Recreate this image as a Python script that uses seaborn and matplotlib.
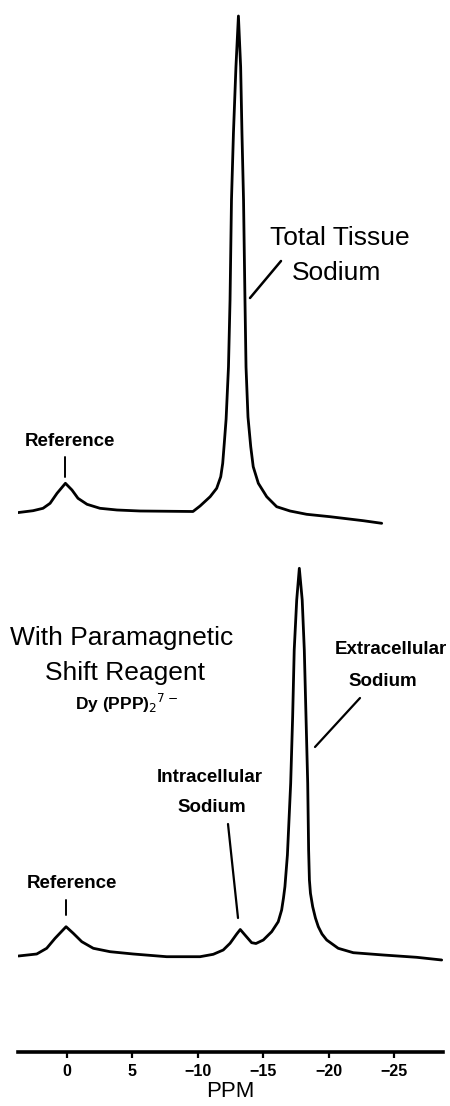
import numpy as np
import pandas as pd
import seaborn as sns
from matplotlib import pyplot as plt
from matplotlib import font_manager
from matplotlib.lines import Line2D

# 23Na NMR spectra, chemical shift in ppm, intensity in arbitrary units
top_ppm = [3.79, 2.57, 1.81, 1.27, 0.74, 0.10, -0.40, -0.86, -1.55, -2.54, -3.84, -5.60,
           -9.64, -10.18, -10.95, -11.45, -11.76, -11.91, -12.03, -12.17, -12.35, -12.47,
           -12.58, -12.73, -12.92, -13.11, -13.28, -13.38, -13.50, -13.61, -13.69, -13.84,
           -14.05, -14.24, -14.63, -15.27, -16.03, -17.05, -18.32, -20.10, -22.64, -24.05]
top_int = [27.3, 29.3, 31.7, 36.7, 46.7, 56.7, 50.0, 41.7, 35.7, 31.7, 30.0, 29.0,
           28.5, 34.0, 43.3, 51.7, 63.3, 76.7, 96.7, 121, 173, 240,
           340, 407, 473, 524, 473, 407, 340, 240, 173, 123,
           93.3, 73.3, 56.7, 43.3, 33.3, 29.0, 25.7, 23.3, 19.3, 16.7]

bottom_ppm = [3.69, 2.29, 1.53, 0.89, 0.05, -0.50, -1.15, -2.03, -3.31, -5.08, -7.63, -10.18,
              -11.19, -11.95, -12.47, -12.98, -13.25, -13.61, -14.12, -14.45, -15.01, -15.65,
              -16.15, -16.41, -16.55, -16.66, -16.85, -17.10, -17.25, -17.37, -17.56, -17.76,
              -17.98, -18.14, -18.27, -18.40, -18.47, -18.53, -18.61, -18.78, -18.99, -19.21,
              -19.49, -19.85, -20.73, -21.88, -24.17, -26.72, -28.63]
bottom_int = [96.0, 98.0, 103.7, 113.7, 125.3, 118.7, 110.3, 103.7, 100.3, 98.0, 95.3, 95.3,
              97.7, 102.0, 108.7, 118.0, 122.5, 117.0, 109.3, 108.5, 112.0, 120.3,
              130.3, 142.0, 154.0, 165.3, 197.0, 268.7, 335.3, 402.0, 452.0, 483.7,
              452.0, 402.0, 335.3, 268.7, 202.0, 172.0, 158.7, 145.3, 134.0, 125.3,
              118.0, 112.0, 103.7, 99.3, 97.0, 94.7, 92.0]

tick_ppm = [0, -5, -10, -15, -20, -25]
tick_labels = ["0", "5", "\u221210", "\u221215", "\u221220", "\u221225"]

sns.set_style("white")
installed = {f.name for f in font_manager.fontManager.ttflist}
narrow = "Liberation Sans Narrow" if "Liberation Sans Narrow" in installed else "Liberation Sans"
plt.rcParams["font.family"] = [narrow, "DejaVu Sans"]
plt.rcParams["text.color"] = "black"
plt.rcParams["axes.labelcolor"] = "black"
plt.rcParams["xtick.color"] = "black"

W, H = 450, 1106
fig = plt.figure(figsize=(W / 100, H / 100), dpi=100)


def fx(x):
    return x / W


def fy(y):
    return 1 - y / H


def pointer(x0, y0, x1, y1, lw=1.6):
    fig.add_artist(Line2D([fx(x0), fx(x1)], [fy(y0), fy(y1)], color="black", lw=lw))


def label(x, y, s, size, bold=False):
    fig.text(fx(x), fy(y), s, ha="center", va="center", fontsize=size,
             fontweight="bold" if bold else "normal")


xlim = (3.72, -28.73)

# top spectrum: total tissue sodium
ax1 = fig.add_axes([fx(18), fy(540), fx(425), 540 / H])
sns.lineplot(x=top_ppm, y=top_int, ax=ax1, color="black", lw=2.0, sort=False, estimator=None)
ax1.set_xlim(*xlim)
ax1.set_ylim(0, 540)
ax1.axis("off")

# bottom spectrum: with shift reagent
ax2 = fig.add_axes([fx(18), fy(1052), fx(425), 512 / H])
sns.lineplot(x=bottom_ppm, y=bottom_int, ax=ax2, color="black", lw=2.0, sort=False, estimator=None)
ax2.set_xlim(*xlim)
ax2.set_ylim(0, 512)
for s in ["top", "left", "right"]:
    ax2.spines[s].set_visible(False)
ax2.spines["bottom"].set_linewidth(2.6)
ax2.spines["bottom"].set_color("black")
ax2.set_yticks([])
ax2.set_xticks(tick_ppm)
ax2.set_xticklabels(tick_labels, fontsize=11.5, fontweight="bold")
ax2.tick_params(axis="x", direction="out", length=4, width=1.6, pad=5, bottom=True)
ax2.set_xlabel("PPM", fontsize=16, labelpad=1)

# annotations, top panel
label(340, 238, "Total Tissue", 19)
label(337, 273, "Sodium", 19)
pointer(250, 298, 281, 261, lw=1.8)
label(70, 442, "Reference", 13.5, bold=True)
pointer(65, 457, 65, 477, lw=1.4)

# annotations, bottom panel
label(122, 638, "With Paramagnetic", 19)
label(125, 673, "Shift Reagent", 19)
label(126, 703, r"Dy (PPP)$_2$$^{7-}$", 12.5, bold=True)
label(391, 650, "Extracellular", 13.5, bold=True)
label(383, 682, "Sodium", 13.5, bold=True)
pointer(315, 747, 360, 698)
label(210, 777, "Intracellular", 13.5, bold=True)
label(212, 807, "Sodium", 13.5, bold=True)
pointer(228, 824, 238, 918)
label(72, 883, "Reference", 13.5, bold=True)
pointer(66, 900, 66, 915, lw=1.4)

fig.savefig("out.png", dpi=100)
